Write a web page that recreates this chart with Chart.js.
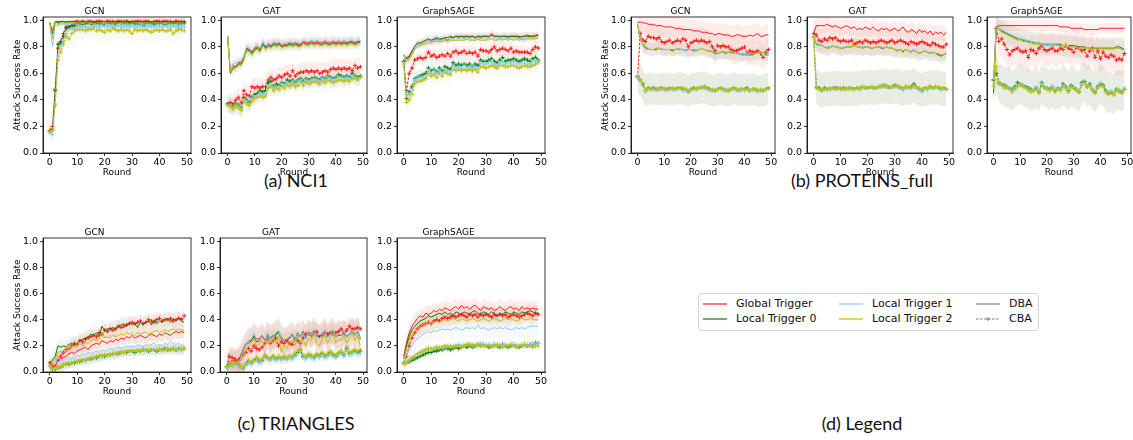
<!DOCTYPE html>
<html>
<head>
<meta charset="utf-8">
<script src="https://cdn.jsdelivr.net/npm/chart.js@4.4.0/dist/chart.umd.min.js"></script>
<style>
  body { margin: 0; background: #fff; width: 1133px; height: 440px; position: relative; overflow: hidden; }
  canvas { position: absolute; }
  .cap { position: absolute; font-family: Lato, "Open Sans", sans-serif; font-size: 18px; color: #111; transform: translateX(-50%); white-space: nowrap; }
  #legend { position: absolute; left: 698px; top: 293px; width: 339px; height: 36px; border: 1px solid #d4d4d4; border-radius: 3px; font-family: "DejaVu Sans", sans-serif; font-size: 11px; color: #111; }
  #legend .it { position: absolute; height: 14px; line-height: 14px; white-space: nowrap; }
  #legend svg { position: absolute; left: 0; top: 2px; }
  #legend span { position: absolute; left: 33px; top: 0; }
</style>
</head>
<body>
<div class="cap" style="left:296px;top:169px">(a) NCI1</div>
<div class="cap" style="left:862px;top:169px">(b) PROTEINS_full</div>
<div class="cap" style="left:296px;top:412px">(c) TRIANGLES</div>
<div class="cap" style="left:862px;top:412px">(d) Legend</div>
<div id="legend"></div>
<script>
const rounds = [0,1,2,3,4,5,6,7,8,9,10,11,12,13,14,15,16,17,18,19,20,21,22,23,24,25,26,27,28,29,30,31,32,33,34,35,36,37,38,39,40,41,42,43,44,45,46,47,48,49];
const xTicks = [0, 10, 20, 30, 40, 50];
const yTicks = [0, 0.2, 0.4, 0.6, 0.8, 1.0];
const triggers = ["Global Trigger", "Local Trigger 0", "Local Trigger 1", "Local Trigger 2"];

// ---- NCI1 / GCN
const nci1GcnGlobalDba = [0.98,0.92,0.99,0.99,0.99,0.99,0.99,0.99,0.99,0.99,
  1.00,0.99,1.00,0.99,0.99,1.00,0.99,0.99,1.00,0.99, 0.99,1.00,0.99,0.99,0.99,1.00,0.99,0.99,1.00,0.99,
  0.99,0.99,1.00,0.99,0.99,1.00,0.99,0.99,0.99,1.00, 0.99,0.99,1.00,0.99,0.99,0.99,1.00,0.99,0.99,0.99];
const nci1GcnL0Dba = [0.98,0.90,0.99,0.98,0.99,0.99,0.98,0.99,0.99,0.99,
  0.99,0.98,0.99,0.99,0.99,0.98,0.99,0.99,0.98,0.99, 0.99,0.99,0.98,0.99,0.99,0.99,0.99,0.98,0.99,0.99,
  0.98,0.99,0.99,0.99,0.98,0.99,0.99,0.98,0.99,0.99, 0.99,0.98,0.99,0.99,0.98,0.99,0.99,0.98,0.99,0.98];
const nci1GcnL1Dba = [0.97,0.80,0.97,0.96,0.97,0.97,0.97,0.97,0.98,0.97,
  0.97,0.97,0.98,0.97,0.97,0.98,0.97,0.97,0.96,0.97, 0.98,0.97,0.97,0.97,0.96,0.97,0.98,0.97,0.97,0.97,
  0.97,0.96,0.97,0.98,0.97,0.97,0.97,0.97,0.96,0.97, 0.97,0.97,0.98,0.97,0.97,0.96,0.97,0.97,0.97,0.97];
const nci1GcnL2Dba = [0.99,0.86,0.99,0.97,0.98,0.98,0.98,0.98,0.98,0.98,
  0.98,0.98,0.98,0.99,0.98,0.98,0.97,0.98,0.98,0.98, 0.99,0.98,0.98,0.98,0.98,0.98,0.98,0.98,0.98,0.97,
  0.98,0.98,0.98,0.98,0.98,0.98,0.98,0.98,0.98,0.98, 0.98,0.98,0.98,0.98,0.98,0.98,0.98,0.98,0.98,0.98];
const nci1GcnGlobalCba = [0.17,0.20,0.48,0.79,0.84,0.90,0.95,0.95,0.96,0.97,
  0.98,0.98,0.98,0.98,0.99,0.98,0.98,0.99,0.99,0.99, 0.98,0.99,0.99,0.99,0.98,0.99,0.99,0.99,0.99,0.98,
  0.99,0.99,0.99,0.99,0.99,0.99,0.99,0.98,0.99,0.99, 0.99,0.99,0.99,0.99,0.99,0.98,0.99,0.99,0.99,0.99];
const nci1GcnL0Cba = [0.16,0.18,0.47,0.82,0.83,0.88,0.94,0.95,0.95,0.96,
  0.97,0.97,0.98,0.97,0.98,0.98,0.97,0.98,0.98,0.97, 0.98,0.98,0.98,0.97,0.98,0.98,0.98,0.98,0.97,0.98,
  0.98,0.98,0.97,0.98,0.96,0.98,0.98,0.98,0.97,0.98, 0.98,0.98,0.97,0.98,0.98,0.98,0.98,0.97,0.98,0.98];
const nci1GcnL1Cba = [0.16,0.14,0.37,0.73,0.80,0.85,0.90,0.93,0.94,0.93,
  0.95,0.95,0.95,0.95,0.94,0.95,0.96,0.95,0.95,0.96, 0.95,0.96,0.95,0.96,0.95,0.96,0.95,0.95,0.96,0.95,
  0.96,0.95,0.95,0.96,0.95,0.95,0.96,0.95,0.95,0.96, 0.95,0.95,0.96,0.95,0.95,0.96,0.95,0.94,0.95,0.95];
const nci1GcnL2Cba = [0.16,0.17,0.36,0.70,0.76,0.82,0.88,0.86,0.90,0.92,
  0.93,0.93,0.93,0.92,0.93,0.93,0.94,0.92,0.93,0.92, 0.91,0.93,0.92,0.94,0.93,0.92,0.93,0.92,0.93,0.92,
  0.90,0.93,0.92,0.93,0.92,0.93,0.92,0.91,0.92,0.93, 0.92,0.93,0.92,0.92,0.93,0.90,0.92,0.93,0.93,0.92];
const nci1GcnDbaSpread = [0.01, 0.015, 0.03, 0.03];
const nci1GcnCbaSpread = [0.03, 0.03, 0.05, 0.08];

// ---- NCI1 / GAT
const nci1GatGlobalDba = [0.88,0.62,0.66,0.65,0.68,0.68,0.72,0.79,0.78,0.76,
  0.79,0.80,0.78,0.83,0.80,0.82,0.81,0.83,0.82,0.83, 0.81,0.82,0.82,0.83,0.82,0.83,0.82,0.82,0.84,0.83,
  0.83,0.84,0.83,0.84,0.83,0.83,0.84,0.83,0.83,0.84, 0.83,0.84,0.83,0.84,0.83,0.84,0.84,0.83,0.84,0.84];
const nci1GatL0Dba = [0.88,0.60,0.64,0.65,0.67,0.67,0.71,0.78,0.77,0.75,
  0.78,0.79,0.77,0.82,0.79,0.81,0.80,0.82,0.81,0.82, 0.80,0.81,0.81,0.82,0.81,0.82,0.81,0.81,0.83,0.82,
  0.82,0.83,0.82,0.83,0.82,0.82,0.83,0.82,0.82,0.83, 0.82,0.83,0.82,0.83,0.82,0.83,0.83,0.82,0.83,0.84];
const nci1GatL1Dba = [0.88,0.62,0.67,0.68,0.69,0.69,0.73,0.80,0.79,0.77,
  0.80,0.81,0.79,0.84,0.81,0.83,0.82,0.84,0.83,0.84, 0.82,0.83,0.83,0.84,0.83,0.84,0.83,0.83,0.85,0.84,
  0.84,0.85,0.84,0.85,0.84,0.84,0.85,0.84,0.84,0.85, 0.84,0.85,0.84,0.85,0.84,0.85,0.85,0.84,0.85,0.85];
const nci1GatL2Dba = [0.88,0.61,0.63,0.64,0.66,0.66,0.70,0.77,0.76,0.74,
  0.77,0.78,0.76,0.81,0.78,0.80,0.79,0.81,0.80,0.81, 0.79,0.80,0.80,0.81,0.80,0.81,0.80,0.80,0.82,0.81,
  0.81,0.82,0.81,0.82,0.81,0.81,0.82,0.81,0.81,0.82, 0.81,0.82,0.81,0.82,0.81,0.82,0.82,0.81,0.82,0.83];
const nci1GatGlobalCba = [0.37,0.38,0.37,0.40,0.42,0.38,0.47,0.44,0.43,0.50,
  0.49,0.50,0.49,0.50,0.50,0.55,0.57,0.55,0.56,0.58, 0.57,0.59,0.60,0.58,0.62,0.58,0.60,0.61,0.61,0.62,
  0.61,0.62,0.61,0.62,0.60,0.61,0.62,0.61,0.63,0.64, 0.63,0.64,0.63,0.64,0.63,0.64,0.62,0.66,0.64,0.65];
const nci1GatL0Cba = [0.37,0.36,0.35,0.37,0.36,0.34,0.42,0.40,0.38,0.42,
  0.44,0.45,0.47,0.46,0.47,0.53,0.54,0.50,0.52,0.51, 0.53,0.52,0.55,0.54,0.55,0.53,0.55,0.56,0.54,0.56,
  0.55,0.56,0.57,0.56,0.55,0.57,0.56,0.58,0.57,0.56, 0.57,0.59,0.58,0.57,0.58,0.57,0.60,0.58,0.57,0.58];
const nci1GatL1Cba = [0.36,0.36,0.34,0.36,0.35,0.33,0.40,0.39,0.37,0.41,
  0.42,0.43,0.45,0.44,0.45,0.50,0.52,0.49,0.50,0.50, 0.52,0.51,0.53,0.52,0.54,0.52,0.54,0.55,0.53,0.55,
  0.54,0.55,0.56,0.55,0.54,0.56,0.55,0.57,0.56,0.55, 0.56,0.57,0.57,0.56,0.57,0.56,0.58,0.57,0.56,0.57];
const nci1GatL2Cba = [0.36,0.35,0.33,0.35,0.34,0.32,0.39,0.37,0.36,0.39,
  0.41,0.42,0.43,0.42,0.43,0.49,0.50,0.47,0.49,0.48, 0.50,0.49,0.51,0.50,0.52,0.50,0.51,0.53,0.51,0.53,
  0.52,0.53,0.54,0.53,0.52,0.54,0.53,0.55,0.54,0.53, 0.54,0.55,0.55,0.54,0.55,0.54,0.56,0.56,0.55,0.57];
const nci1GatDbaSpread = [0.04, 0.04, 0.04, 0.04];
const nci1GatCbaSpread = [0.07, 0.06, 0.06, 0.06];

// ---- NCI1 / GraphSAGE
const nci1SageGlobalDba = [0.68,0.72,0.73,0.77,0.80,0.82,0.82,0.83,0.84,0.85,
  0.84,0.85,0.86,0.85,0.86,0.86,0.85,0.87,0.87,0.88, 0.87,0.88,0.87,0.88,0.87,0.88,0.87,0.88,0.87,0.88,
  0.88,0.87,0.90,0.88,0.88,0.87,0.88,0.88,0.87,0.88, 0.88,0.88,0.87,0.88,0.88,0.89,0.88,0.88,0.89,0.89];
const nci1SageL0Dba = [0.74,0.71,0.72,0.76,0.80,0.83,0.83,0.84,0.85,0.86,
  0.85,0.86,0.87,0.86,0.86,0.87,0.87,0.88,0.87,0.88, 0.88,0.88,0.88,0.88,0.88,0.88,0.87,0.88,0.88,0.88,
  0.88,0.88,0.89,0.88,0.88,0.88,0.88,0.88,0.88,0.88, 0.88,0.88,0.88,0.87,0.88,0.88,0.88,0.88,0.88,0.89];
const nci1SageL1Dba = [0.72,0.69,0.71,0.75,0.79,0.82,0.82,0.83,0.84,0.85,
  0.84,0.85,0.85,0.85,0.85,0.86,0.86,0.86,0.86,0.87, 0.86,0.87,0.86,0.87,0.86,0.87,0.86,0.87,0.86,0.87,
  0.86,0.87,0.88,0.87,0.86,0.87,0.86,0.87,0.86,0.87, 0.87,0.87,0.86,0.87,0.86,0.87,0.87,0.87,0.87,0.88];
const nci1SageL2Dba = [0.74,0.70,0.70,0.74,0.78,0.80,0.81,0.82,0.82,0.83,
  0.83,0.84,0.84,0.84,0.84,0.85,0.84,0.85,0.85,0.85, 0.85,0.85,0.85,0.86,0.85,0.85,0.85,0.86,0.85,0.85,
  0.85,0.86,0.86,0.85,0.85,0.86,0.85,0.86,0.85,0.86, 0.85,0.86,0.85,0.86,0.85,0.86,0.86,0.86,0.86,0.87];
const nci1SageGlobalCba = [0.69,0.47,0.60,0.64,0.70,0.71,0.72,0.71,0.72,0.76,
  0.73,0.74,0.72,0.73,0.74,0.73,0.75,0.73,0.76,0.77, 0.75,0.76,0.77,0.75,0.76,0.75,0.76,0.73,0.78,0.77,
  0.77,0.76,0.78,0.80,0.77,0.78,0.79,0.78,0.77,0.79, 0.76,0.77,0.76,0.76,0.76,0.76,0.75,0.78,0.80,0.79];
const nci1SageL0Cba = [0.69,0.41,0.46,0.50,0.56,0.57,0.58,0.59,0.60,0.64,
  0.62,0.63,0.61,0.64,0.62,0.65,0.64,0.63,0.68,0.66, 0.67,0.66,0.67,0.66,0.67,0.65,0.67,0.66,0.70,0.69,
  0.69,0.70,0.71,0.69,0.68,0.70,0.72,0.69,0.70,0.70, 0.71,0.70,0.69,0.70,0.71,0.70,0.69,0.71,0.72,0.70];
const nci1SageL1Cba = [0.68,0.43,0.44,0.47,0.55,0.56,0.57,0.57,0.58,0.62,
  0.60,0.62,0.60,0.62,0.60,0.63,0.62,0.61,0.66,0.64, 0.65,0.64,0.66,0.64,0.65,0.64,0.65,0.64,0.68,0.67,
  0.67,0.68,0.69,0.67,0.66,0.68,0.69,0.67,0.68,0.68, 0.69,0.68,0.67,0.68,0.68,0.67,0.67,0.69,0.70,0.69];
const nci1SageL2Cba = [0.67,0.38,0.40,0.44,0.52,0.54,0.54,0.55,0.56,0.60,
  0.58,0.59,0.57,0.60,0.58,0.61,0.60,0.59,0.63,0.62, 0.63,0.62,0.63,0.62,0.63,0.62,0.63,0.61,0.65,0.65,
  0.64,0.65,0.66,0.65,0.64,0.66,0.66,0.65,0.65,0.66, 0.66,0.65,0.64,0.65,0.66,0.65,0.65,0.66,0.67,0.68];
const nci1SageDbaSpread = [0.03, 0.03, 0.03, 0.03];
const nci1SageCbaSpread = [0.05, 0.05, 0.05, 0.06];

// ---- PROTEINS_full / GCN
const protGcnGlobalDba = [0.98,0.99,0.98,0.98,0.97,0.97,0.97,0.96,0.96,0.96,
  0.95,0.95,0.95,0.95,0.94,0.94,0.94,0.93,0.93,0.93, 0.93,0.92,0.92,0.92,0.91,0.91,0.91,0.90,0.90,0.89,
  0.90,0.90,0.89,0.89,0.89,0.88,0.88,0.89,0.89,0.88, 0.88,0.88,0.89,0.88,0.89,0.90,0.88,0.88,0.89,0.89];
const protGcnL0Dba = [0.97,0.87,0.82,0.79,0.78,0.78,0.78,0.78,0.79,0.78,
  0.78,0.78,0.78,0.77,0.78,0.78,0.78,0.78,0.77,0.78, 0.78,0.77,0.77,0.78,0.78,0.78,0.77,0.77,0.76,0.75,
  0.75,0.76,0.76,0.75,0.76,0.76,0.75,0.75,0.75,0.74, 0.74,0.74,0.74,0.74,0.75,0.76,0.75,0.76,0.74,0.74];
const protGcnL1Dba = [0.97,0.88,0.82,0.80,0.78,0.78,0.78,0.79,0.79,0.79,
  0.78,0.78,0.78,0.78,0.78,0.78,0.79,0.78,0.77,0.78, 0.78,0.78,0.77,0.78,0.78,0.78,0.77,0.77,0.76,0.74,
  0.75,0.76,0.76,0.76,0.76,0.75,0.75,0.75,0.74,0.74, 0.74,0.74,0.75,0.75,0.75,0.75,0.75,0.76,0.75,0.74];
const protGcnL2Dba = [0.97,0.87,0.83,0.80,0.79,0.78,0.78,0.79,0.79,0.78,
  0.78,0.78,0.78,0.78,0.78,0.79,0.78,0.78,0.78,0.78, 0.78,0.78,0.78,0.78,0.79,0.78,0.77,0.77,0.77,0.75,
  0.76,0.76,0.77,0.76,0.76,0.76,0.76,0.75,0.75,0.75, 0.75,0.75,0.75,0.75,0.75,0.76,0.76,0.76,0.75,0.75];
const protGcnGlobalCba = [0.57,0.90,0.85,0.84,0.88,0.87,0.87,0.86,0.87,0.84,
  0.83,0.84,0.85,0.83,0.84,0.85,0.84,0.86,0.85,0.80, 0.83,0.84,0.85,0.84,0.85,0.84,0.83,0.84,0.80,0.77,
  0.81,0.80,0.81,0.80,0.80,0.78,0.77,0.77,0.78,0.79, 0.80,0.75,0.77,0.76,0.76,0.77,0.75,0.72,0.76,0.78];
const protGcnL0Cba = [0.58,0.55,0.52,0.47,0.49,0.48,0.49,0.48,0.48,0.49,
  0.48,0.48,0.49,0.48,0.48,0.49,0.49,0.48,0.48,0.46, 0.48,0.49,0.48,0.49,0.49,0.50,0.49,0.48,0.47,0.47,
  0.48,0.49,0.48,0.47,0.47,0.48,0.49,0.48,0.47,0.48, 0.48,0.49,0.47,0.48,0.48,0.47,0.47,0.47,0.48,0.49];
const protGcnL1Cba = [0.58,0.54,0.51,0.46,0.48,0.48,0.48,0.47,0.48,0.48,
  0.49,0.47,0.48,0.48,0.48,0.48,0.49,0.47,0.48,0.46, 0.48,0.48,0.48,0.49,0.49,0.49,0.48,0.47,0.47,0.47,
  0.48,0.48,0.48,0.47,0.48,0.48,0.48,0.47,0.47,0.48, 0.47,0.48,0.47,0.48,0.47,0.46,0.47,0.47,0.48,0.48];
const protGcnL2Cba = [0.57,0.55,0.51,0.47,0.49,0.49,0.48,0.48,0.49,0.48,
  0.48,0.48,0.49,0.49,0.48,0.49,0.49,0.49,0.48,0.47, 0.48,0.48,0.49,0.49,0.50,0.50,0.49,0.48,0.48,0.47,
  0.48,0.49,0.48,0.48,0.47,0.48,0.49,0.48,0.48,0.48, 0.48,0.48,0.47,0.48,0.48,0.47,0.48,0.47,0.48,0.49];
const protGcnDbaSpread = [0.08, 0.05, 0.05, 0.05];
const protGcnCbaSpread = [0.1, 0.12, 0.12, 0.12];

// ---- PROTEINS_full / GAT
const protGatGlobalDba = [0.90,0.96,0.96,0.96,0.96,0.97,0.96,0.95,0.96,0.95,
  0.94,0.95,0.96,0.95,0.94,0.95,0.93,0.94,0.93,0.95, 0.94,0.93,0.95,0.93,0.92,0.94,0.93,0.94,0.92,0.93,
  0.94,0.92,0.93,0.95,0.92,0.91,0.93,0.92,0.90,0.93, 0.91,0.92,0.90,0.92,0.89,0.91,0.90,0.91,0.89,0.91];
const protGatL0Dba = [0.88,0.82,0.82,0.81,0.80,0.79,0.80,0.81,0.80,0.80,
  0.79,0.79,0.80,0.80,0.80,0.81,0.80,0.80,0.79,0.80, 0.80,0.79,0.79,0.80,0.80,0.79,0.79,0.80,0.79,0.79,
  0.78,0.77,0.78,0.76,0.78,0.77,0.76,0.78,0.76,0.75, 0.76,0.77,0.76,0.75,0.76,0.75,0.74,0.73,0.74,0.75];
const protGatL1Dba = [0.88,0.83,0.82,0.81,0.80,0.80,0.80,0.81,0.80,0.80,
  0.79,0.80,0.80,0.80,0.81,0.81,0.80,0.80,0.80,0.80, 0.80,0.80,0.79,0.80,0.80,0.80,0.79,0.80,0.79,0.79,
  0.78,0.78,0.78,0.77,0.78,0.77,0.77,0.78,0.76,0.76, 0.76,0.77,0.76,0.76,0.76,0.75,0.75,0.74,0.74,0.75];
const protGatL2Dba = [0.87,0.82,0.81,0.81,0.80,0.79,0.79,0.80,0.80,0.79,
  0.79,0.79,0.80,0.80,0.80,0.81,0.80,0.80,0.79,0.80, 0.80,0.79,0.79,0.80,0.80,0.80,0.79,0.80,0.79,0.79,
  0.78,0.77,0.78,0.77,0.78,0.77,0.76,0.77,0.76,0.75, 0.76,0.77,0.76,0.75,0.76,0.75,0.75,0.74,0.74,0.76];
const protGatGlobalCba = [0.90,0.89,0.85,0.84,0.86,0.85,0.87,0.86,0.87,0.85,
  0.84,0.85,0.84,0.84,0.85,0.82,0.83,0.84,0.83,0.85, 0.84,0.83,0.84,0.83,0.84,0.85,0.84,0.83,0.84,0.85,
  0.83,0.84,0.85,0.84,0.83,0.82,0.84,0.83,0.82,0.83, 0.84,0.83,0.82,0.81,0.83,0.82,0.81,0.80,0.80,0.82];
const protGatL0Cba = [0.87,0.50,0.49,0.47,0.49,0.48,0.48,0.49,0.49,0.49,
  0.48,0.49,0.48,0.49,0.49,0.48,0.49,0.48,0.50,0.49, 0.49,0.50,0.49,0.49,0.50,0.50,0.51,0.50,0.49,0.50,
  0.51,0.50,0.49,0.48,0.50,0.49,0.50,0.52,0.49,0.48, 0.47,0.49,0.48,0.50,0.49,0.50,0.49,0.48,0.49,0.48];
const protGatL1Cba = [0.87,0.50,0.48,0.47,0.48,0.48,0.48,0.49,0.48,0.49,
  0.48,0.48,0.48,0.49,0.48,0.48,0.49,0.48,0.49,0.49, 0.49,0.50,0.49,0.49,0.50,0.50,0.50,0.50,0.49,0.50,
  0.50,0.50,0.49,0.48,0.49,0.49,0.49,0.50,0.49,0.48, 0.46,0.48,0.48,0.49,0.49,0.49,0.49,0.48,0.48,0.48];
const protGatL2Cba = [0.88,0.49,0.48,0.47,0.48,0.48,0.49,0.49,0.48,0.48,
  0.49,0.48,0.49,0.48,0.49,0.48,0.49,0.49,0.50,0.50, 0.49,0.50,0.50,0.49,0.50,0.51,0.50,0.51,0.50,0.50,
  0.50,0.51,0.50,0.49,0.50,0.50,0.49,0.51,0.50,0.49, 0.48,0.49,0.49,0.50,0.49,0.50,0.50,0.49,0.49,0.48];
const protGatDbaSpread = [0.06, 0.06, 0.06, 0.06];
const protGatCbaSpread = [0.1, 0.13, 0.13, 0.13];

// ---- PROTEINS_full / GraphSAGE
const protSageGlobalDba = [0.50,0.95,0.96,0.96,0.96,0.96,0.96,0.96,0.96,0.96,
  0.96,0.96,0.96,0.96,0.96,0.96,0.96,0.96,0.96,0.96, 0.96,0.96,0.96,0.96,0.96,0.95,0.95,0.95,0.95,0.94,
  0.94,0.94,0.94,0.94,0.93,0.93,0.93,0.93,0.93,0.93, 0.94,0.94,0.94,0.94,0.94,0.94,0.94,0.94,0.94,0.94];
const protSageL0Dba = [0.45,0.95,0.94,0.92,0.91,0.90,0.89,0.88,0.87,0.86,
  0.86,0.85,0.85,0.84,0.84,0.83,0.83,0.83,0.82,0.82, 0.82,0.82,0.82,0.82,0.82,0.82,0.81,0.81,0.81,0.81,
  0.81,0.80,0.80,0.80,0.80,0.79,0.79,0.79,0.79,0.79, 0.79,0.79,0.79,0.79,0.79,0.79,0.80,0.80,0.79,0.78];
const protSageL1Dba = [0.55,0.95,0.94,0.93,0.92,0.91,0.90,0.89,0.88,0.87,
  0.86,0.86,0.85,0.85,0.84,0.84,0.83,0.83,0.82,0.82, 0.82,0.82,0.82,0.82,0.81,0.81,0.81,0.81,0.81,0.80,
  0.80,0.80,0.79,0.79,0.79,0.79,0.78,0.78,0.78,0.78, 0.78,0.78,0.78,0.78,0.78,0.78,0.79,0.79,0.78,0.78];
const protSageL2Dba = [0.50,0.94,0.93,0.91,0.90,0.89,0.88,0.87,0.86,0.85,
  0.85,0.84,0.84,0.83,0.83,0.82,0.82,0.82,0.81,0.81, 0.81,0.81,0.81,0.81,0.81,0.81,0.80,0.80,0.80,0.80,
  0.80,0.80,0.79,0.79,0.79,0.79,0.79,0.79,0.79,0.78, 0.79,0.79,0.79,0.79,0.79,0.79,0.79,0.79,0.78,0.78];
const protSageGlobalCba = [0.55,0.94,0.84,0.86,0.82,0.78,0.74,0.77,0.78,0.79,
  0.77,0.76,0.77,0.72,0.78,0.77,0.75,0.79,0.81,0.78, 0.77,0.78,0.79,0.77,0.77,0.79,0.78,0.81,0.79,0.78,
  0.76,0.80,0.79,0.77,0.78,0.73,0.77,0.79,0.72,0.77, 0.71,0.76,0.73,0.72,0.74,0.73,0.70,0.71,0.70,0.75];
const protSageL0Cba = [0.55,0.60,0.53,0.52,0.51,0.50,0.49,0.48,0.50,0.53,
  0.52,0.51,0.50,0.49,0.48,0.47,0.49,0.46,0.53,0.50, 0.49,0.48,0.50,0.47,0.49,0.48,0.52,0.50,0.47,0.51,
  0.49,0.48,0.46,0.53,0.54,0.50,0.52,0.48,0.46,0.50, 0.52,0.51,0.47,0.45,0.46,0.44,0.48,0.47,0.46,0.48];
const protSageL1Cba = [0.52,0.63,0.54,0.52,0.50,0.50,0.49,0.47,0.49,0.51,
  0.52,0.51,0.49,0.48,0.47,0.48,0.50,0.47,0.52,0.50, 0.49,0.47,0.50,0.48,0.49,0.48,0.51,0.49,0.48,0.50,
  0.50,0.48,0.47,0.52,0.53,0.51,0.50,0.48,0.47,0.49, 0.53,0.50,0.46,0.46,0.47,0.45,0.47,0.48,0.47,0.49];
const protSageL2Cba = [0.50,0.65,0.52,0.51,0.49,0.49,0.48,0.46,0.48,0.50,
  0.51,0.50,0.49,0.47,0.46,0.47,0.48,0.45,0.51,0.49, 0.48,0.47,0.49,0.46,0.48,0.47,0.50,0.49,0.46,0.50,
  0.49,0.47,0.46,0.51,0.53,0.50,0.51,0.47,0.45,0.49, 0.51,0.50,0.46,0.44,0.45,0.44,0.47,0.46,0.45,0.48];
const protSageDbaSpread = [0.04, 0.08, 0.08, 0.08];
const protSageCbaSpread = [0.12, 0.15, 0.15, 0.15];

// ---- TRIANGLES / GCN
const triGcnGlobalDba = [0.05,0.03,0.06,0.09,0.10,0.11,0.12,0.14,0.15,0.14,
  0.16,0.17,0.18,0.19,0.17,0.20,0.21,0.22,0.21,0.24, 0.23,0.22,0.24,0.23,0.25,0.24,0.26,0.25,0.27,0.26,
  0.28,0.26,0.27,0.28,0.27,0.26,0.28,0.29,0.28,0.27, 0.29,0.28,0.30,0.29,0.28,0.30,0.31,0.30,0.31,0.30];
const triGcnL0Dba = [0.07,0.09,0.12,0.20,0.19,0.20,0.19,0.21,0.22,0.20,
  0.22,0.24,0.25,0.26,0.27,0.29,0.28,0.30,0.27,0.35, 0.32,0.33,0.33,0.34,0.33,0.35,0.36,0.37,0.35,0.38,
  0.36,0.37,0.34,0.38,0.36,0.38,0.39,0.36,0.40,0.37, 0.39,0.38,0.40,0.41,0.38,0.41,0.39,0.42,0.39,0.38];
const triGcnL1Dba = [0.04,0.05,0.06,0.13,0.08,0.09,0.10,0.11,0.10,0.12,
  0.13,0.12,0.14,0.13,0.15,0.14,0.15,0.16,0.15,0.17, 0.16,0.17,0.18,0.17,0.18,0.19,0.18,0.19,0.20,0.19,
  0.20,0.19,0.21,0.20,0.19,0.21,0.20,0.21,0.22,0.20, 0.21,0.20,0.22,0.21,0.23,0.22,0.21,0.22,0.20,0.20];
const triGcnL2Dba = [0.05,0.07,0.10,0.15,0.16,0.15,0.17,0.18,0.20,0.19,
  0.21,0.22,0.20,0.23,0.22,0.24,0.25,0.24,0.26,0.30, 0.26,0.27,0.26,0.28,0.27,0.28,0.29,0.28,0.30,0.29,
  0.30,0.28,0.30,0.29,0.30,0.31,0.29,0.30,0.31,0.32, 0.30,0.31,0.32,0.31,0.32,0.33,0.32,0.33,0.32,0.32];
const triGcnGlobalCba = [0.07,0.05,0.04,0.09,0.12,0.15,0.17,0.18,0.20,0.22,
  0.21,0.24,0.23,0.25,0.26,0.27,0.28,0.27,0.30,0.29, 0.32,0.31,0.33,0.32,0.33,0.35,0.34,0.35,0.36,0.37,
  0.38,0.37,0.38,0.39,0.37,0.38,0.40,0.39,0.38,0.40, 0.41,0.39,0.40,0.40,0.41,0.39,0.40,0.41,0.40,0.43];
const triGcnL0Cba = [0.05,0.02,0.02,0.03,0.04,0.05,0.06,0.06,0.07,0.07,
  0.08,0.08,0.09,0.09,0.10,0.10,0.11,0.11,0.12,0.12, 0.12,0.13,0.13,0.14,0.14,0.14,0.15,0.15,0.15,0.16,
  0.16,0.15,0.16,0.16,0.17,0.17,0.16,0.17,0.17,0.16, 0.17,0.17,0.18,0.17,0.17,0.18,0.17,0.18,0.17,0.18];
const triGcnL1Cba = [0.04,0.02,0.03,0.03,0.05,0.05,0.06,0.07,0.07,0.08,
  0.08,0.09,0.09,0.10,0.10,0.11,0.11,0.12,0.12,0.12, 0.13,0.13,0.13,0.14,0.14,0.15,0.15,0.15,0.16,0.16,
  0.16,0.16,0.16,0.17,0.17,0.16,0.17,0.17,0.17,0.17, 0.17,0.17,0.17,0.18,0.17,0.17,0.18,0.17,0.17,0.18];
const triGcnL2Cba = [0.05,0.02,0.02,0.04,0.04,0.06,0.06,0.07,0.07,0.08,
  0.08,0.09,0.09,0.09,0.10,0.11,0.11,0.12,0.12,0.13, 0.13,0.13,0.14,0.14,0.14,0.15,0.15,0.15,0.16,0.16,
  0.16,0.16,0.17,0.16,0.17,0.17,0.17,0.17,0.17,0.17, 0.18,0.17,0.17,0.18,0.17,0.18,0.17,0.18,0.18,0.18];
const triGcnDbaSpread = [0.05, 0.06, 0.07, 0.06];
const triGcnCbaSpread = [0.05, 0.04, 0.04, 0.04];

// ---- TRIANGLES / GAT
const triGatGlobalDba = [0.04,0.07,0.09,0.08,0.09,0.12,0.17,0.21,0.24,0.24,
  0.28,0.25,0.26,0.28,0.24,0.29,0.26,0.28,0.29,0.31, 0.25,0.24,0.25,0.26,0.28,0.25,0.28,0.27,0.29,0.26,
  0.30,0.28,0.31,0.27,0.27,0.28,0.31,0.27,0.29,0.31, 0.27,0.28,0.28,0.30,0.27,0.29,0.31,0.28,0.31,0.26];
const triGatL0Dba = [0.03,0.06,0.07,0.06,0.08,0.11,0.15,0.21,0.22,0.24,
  0.27,0.23,0.24,0.27,0.24,0.28,0.25,0.27,0.28,0.31, 0.27,0.23,0.24,0.26,0.29,0.24,0.30,0.27,0.31,0.26,
  0.30,0.29,0.32,0.28,0.27,0.29,0.32,0.26,0.30,0.32, 0.27,0.29,0.28,0.30,0.27,0.29,0.32,0.29,0.31,0.25];
const triGatL1Dba = [0.03,0.06,0.08,0.05,0.07,0.10,0.16,0.20,0.24,0.25,
  0.30,0.24,0.25,0.27,0.23,0.30,0.25,0.27,0.30,0.32, 0.26,0.23,0.25,0.27,0.28,0.24,0.29,0.27,0.30,0.25,
  0.31,0.28,0.33,0.27,0.26,0.28,0.32,0.26,0.29,0.33, 0.27,0.29,0.28,0.31,0.27,0.29,0.32,0.28,0.32,0.25];
const triGatL2Dba = [0.04,0.05,0.06,0.07,0.08,0.09,0.12,0.16,0.20,0.22,
  0.25,0.20,0.22,0.24,0.20,0.25,0.22,0.26,0.22,0.28, 0.15,0.20,0.18,0.22,0.24,0.20,0.27,0.22,0.25,0.20,
  0.26,0.24,0.30,0.22,0.20,0.25,0.28,0.22,0.26,0.30, 0.22,0.25,0.24,0.28,0.22,0.26,0.30,0.24,0.28,0.20];
const triGatGlobalCba = [0.04,0.12,0.11,0.10,0.08,0.10,0.13,0.15,0.18,0.16,
  0.20,0.18,0.17,0.19,0.22,0.25,0.22,0.24,0.26,0.20, 0.23,0.22,0.24,0.22,0.21,0.25,0.24,0.22,0.26,0.29,
  0.30,0.28,0.30,0.31,0.27,0.28,0.30,0.29,0.30,0.29, 0.30,0.31,0.33,0.30,0.32,0.35,0.33,0.33,0.34,0.33];
const triGatL0Cba = [0.04,0.06,0.05,0.07,0.06,0.04,0.03,0.06,0.08,0.07,
  0.09,0.10,0.08,0.09,0.12,0.11,0.10,0.12,0.10,0.11, 0.10,0.11,0.10,0.12,0.11,0.13,0.15,0.17,0.12,0.11,
  0.13,0.12,0.11,0.13,0.12,0.14,0.12,0.13,0.15,0.13, 0.12,0.14,0.15,0.13,0.18,0.14,0.15,0.16,0.15,0.16];
const triGatL1Cba = [0.03,0.05,0.05,0.06,0.05,0.04,0.03,0.05,0.07,0.06,
  0.08,0.09,0.07,0.08,0.11,0.10,0.09,0.11,0.09,0.10, 0.10,0.10,0.10,0.11,0.10,0.12,0.14,0.16,0.11,0.10,
  0.12,0.11,0.10,0.12,0.11,0.13,0.11,0.12,0.14,0.12, 0.11,0.13,0.14,0.12,0.17,0.13,0.14,0.15,0.14,0.14];
const triGatL2Cba = [0.04,0.07,0.06,0.07,0.07,0.05,0.02,0.06,0.09,0.08,
  0.09,0.11,0.09,0.10,0.13,0.11,0.10,0.12,0.11,0.12, 0.11,0.12,0.11,0.12,0.12,0.14,0.16,0.17,0.13,0.12,
  0.14,0.13,0.12,0.14,0.13,0.15,0.13,0.14,0.16,0.14, 0.13,0.15,0.16,0.14,0.19,0.15,0.16,0.17,0.16,0.17];
const triGatDbaSpread = [0.1, 0.1, 0.1, 0.1];
const triGatCbaSpread = [0.08, 0.04, 0.04, 0.04];

// ---- TRIANGLES / GraphSAGE
const triSageGlobalDba = [0.12,0.22,0.30,0.35,0.38,0.41,0.43,0.42,0.45,0.44,
  0.45,0.47,0.46,0.48,0.47,0.49,0.48,0.47,0.49,0.50, 0.48,0.51,0.49,0.50,0.48,0.50,0.51,0.49,0.47,0.50,
  0.49,0.48,0.49,0.47,0.48,0.50,0.48,0.47,0.49,0.50, 0.48,0.49,0.47,0.50,0.48,0.49,0.48,0.49,0.48,0.48];
const triSageL0Dba = [0.10,0.20,0.27,0.32,0.35,0.37,0.39,0.40,0.41,0.43,
  0.42,0.43,0.44,0.45,0.44,0.46,0.44,0.45,0.43,0.46, 0.45,0.44,0.46,0.45,0.44,0.46,0.47,0.45,0.44,0.46,
  0.45,0.44,0.46,0.45,0.43,0.45,0.44,0.46,0.45,0.44, 0.46,0.45,0.44,0.46,0.45,0.46,0.47,0.46,0.45,0.45];
const triSageL1Dba = [0.08,0.13,0.17,0.20,0.23,0.26,0.27,0.29,0.30,0.31,
  0.30,0.32,0.31,0.32,0.33,0.32,0.33,0.32,0.33,0.34, 0.33,0.32,0.33,0.34,0.33,0.34,0.33,0.36,0.33,0.34,
  0.33,0.32,0.33,0.34,0.33,0.34,0.33,0.34,0.33,0.32, 0.33,0.34,0.33,0.34,0.33,0.34,0.35,0.35,0.35,0.35];
const triSageL2Dba = [0.10,0.18,0.24,0.28,0.31,0.33,0.35,0.36,0.37,0.38,
  0.37,0.38,0.39,0.38,0.39,0.40,0.39,0.40,0.41,0.40, 0.39,0.41,0.40,0.39,0.40,0.41,0.40,0.39,0.40,0.41,
  0.40,0.39,0.40,0.41,0.40,0.39,0.40,0.41,0.40,0.41, 0.40,0.39,0.40,0.41,0.40,0.40,0.41,0.40,0.40,0.40];
const triSageGlobalCba = [0.07,0.12,0.20,0.26,0.30,0.33,0.35,0.36,0.37,0.38,
  0.37,0.39,0.40,0.39,0.41,0.42,0.41,0.42,0.43,0.42, 0.43,0.44,0.43,0.42,0.44,0.43,0.44,0.42,0.44,0.43,
  0.44,0.43,0.42,0.44,0.43,0.44,0.43,0.44,0.42,0.43, 0.44,0.43,0.42,0.43,0.44,0.45,0.44,0.43,0.45,0.44];
const triSageL0Cba = [0.07,0.07,0.08,0.09,0.10,0.11,0.12,0.13,0.14,0.15,
  0.15,0.16,0.16,0.17,0.17,0.18,0.18,0.17,0.18,0.19, 0.18,0.19,0.20,0.19,0.20,0.19,0.20,0.21,0.20,0.21,
  0.20,0.19,0.20,0.21,0.20,0.19,0.21,0.20,0.19,0.20, 0.21,0.20,0.19,0.20,0.21,0.20,0.21,0.21,0.22,0.22];
const triSageL1Cba = [0.07,0.07,0.09,0.11,0.12,0.13,0.15,0.16,0.17,0.18,
  0.17,0.18,0.19,0.19,0.18,0.19,0.20,0.19,0.20,0.20, 0.21,0.20,0.20,0.21,0.22,0.20,0.21,0.20,0.22,0.21,
  0.20,0.21,0.20,0.21,0.20,0.21,0.20,0.21,0.20,0.21, 0.21,0.20,0.20,0.21,0.20,0.21,0.21,0.22,0.21,0.22];
const triSageL2Cba = [0.06,0.07,0.09,0.11,0.12,0.14,0.15,0.16,0.17,0.18,
  0.18,0.18,0.19,0.18,0.19,0.20,0.19,0.20,0.19,0.20, 0.20,0.19,0.20,0.21,0.20,0.21,0.20,0.21,0.20,0.20,
  0.20,0.20,0.19,0.20,0.21,0.20,0.19,0.20,0.20,0.21, 0.20,0.19,0.20,0.20,0.21,0.20,0.20,0.19,0.20,0.20];
const triSageDbaSpread = [0.06, 0.06, 0.08, 0.06];
const triSageCbaSpread = [0.06, 0.03, 0.03, 0.03];

// styles
const lineColors = ["#ff1a1a", "#008000", "#87cefa", "#bfbf00"];
const bandColors = ["rgba(250,128,114,0.14)", "rgba(90,110,70,0.06)", "rgba(140,170,200,0.07)", "rgba(185,175,90,0.08)"];
const FONT = "'DejaVu Sans', sans-serif";
const Y_W = 45, T_H = 16, X_H = 27;

const panels = [
  { title: "GCN", left: 43, top: 17, w: 148, h: 136, yTitle: true,
    dba: [nci1GcnGlobalDba, nci1GcnL0Dba, nci1GcnL1Dba, nci1GcnL2Dba],
    cba: [nci1GcnGlobalCba, nci1GcnL0Cba, nci1GcnL1Cba, nci1GcnL2Cba],
    dbaSpread: nci1GcnDbaSpread, cbaSpread: nci1GcnCbaSpread },
  { title: "GAT", left: 221, top: 17, w: 146, h: 136,
    dba: [nci1GatGlobalDba, nci1GatL0Dba, nci1GatL1Dba, nci1GatL2Dba],
    cba: [nci1GatGlobalCba, nci1GatL0Cba, nci1GatL1Cba, nci1GatL2Cba],
    dbaSpread: nci1GatDbaSpread, cbaSpread: nci1GatCbaSpread },
  { title: "GraphSAGE", left: 397, top: 17, w: 148, h: 136,
    dba: [nci1SageGlobalDba, nci1SageL0Dba, nci1SageL1Dba, nci1SageL2Dba],
    cba: [nci1SageGlobalCba, nci1SageL0Cba, nci1SageL1Cba, nci1SageL2Cba],
    dbaSpread: nci1SageDbaSpread, cbaSpread: nci1SageCbaSpread },
  { title: "GCN", left: 631, top: 17, w: 144, h: 136, yTitle: true,
    dba: [protGcnGlobalDba, protGcnL0Dba, protGcnL1Dba, protGcnL2Dba],
    cba: [protGcnGlobalCba, protGcnL0Cba, protGcnL1Cba, protGcnL2Cba],
    dbaSpread: protGcnDbaSpread, cbaSpread: protGcnCbaSpread },
  { title: "GAT", left: 807, top: 17, w: 146, h: 136,
    dba: [protGatGlobalDba, protGatL0Dba, protGatL1Dba, protGatL2Dba],
    cba: [protGatGlobalCba, protGatL0Cba, protGatL1Cba, protGatL2Cba],
    dbaSpread: protGatDbaSpread, cbaSpread: protGatCbaSpread },
  { title: "GraphSAGE", left: 987, top: 17, w: 144, h: 136,
    dba: [protSageGlobalDba, protSageL0Dba, protSageL1Dba, protSageL2Dba],
    cba: [protSageGlobalCba, protSageL0Cba, protSageL1Cba, protSageL2Cba],
    dbaSpread: protSageDbaSpread, cbaSpread: protSageCbaSpread },
  { title: "GCN", left: 43, top: 238, w: 148, h: 134, yTitle: true,
    dba: [triGcnGlobalDba, triGcnL0Dba, triGcnL1Dba, triGcnL2Dba],
    cba: [triGcnGlobalCba, triGcnL0Cba, triGcnL1Cba, triGcnL2Cba],
    dbaSpread: triGcnDbaSpread, cbaSpread: triGcnCbaSpread },
  { title: "GAT", left: 220, top: 238, w: 147, h: 134,
    dba: [triGatGlobalDba, triGatL0Dba, triGatL1Dba, triGatL2Dba],
    cba: [triGatGlobalCba, triGatL0Cba, triGatL1Cba, triGatL2Cba],
    dbaSpread: triGatDbaSpread, cbaSpread: triGatCbaSpread },
  { title: "GraphSAGE", left: 397, top: 238, w: 148, h: 134,
    dba: [triSageGlobalDba, triSageL0Dba, triSageL1Dba, triSageL2Dba],
    cba: [triSageGlobalCba, triSageL0Cba, triSageL1Cba, triSageL2Cba],
    dbaSpread: triSageDbaSpread, cbaSpread: triSageCbaSpread },
];

// black box round the plot area, like matplotlib spines
const frame = {
  id: "frame",
  afterDatasetsDraw(chart) {
    const a = chart.chartArea, c = chart.ctx;
    c.save();
    c.strokeStyle = "#000";
    c.lineWidth = 0.8;
    c.strokeRect(a.left, a.top, a.right - a.left, a.bottom - a.top);
    c.restore();
  }
};

function pts(vals, d) {
  return vals.map((v, i) => ({ x: rounds[i], y: v + d }));
}

function bandSets(vals, s, color) {
  return [
    { data: pts(vals, s), fill: "+1", backgroundColor: color, borderWidth: 0, pointRadius: 0, order: 20 },
    { data: pts(vals, -s), fill: false, borderWidth: 0, pointRadius: 0, order: 20 }
  ];
}

function makePanel(p) {
  const cv = document.createElement("canvas");
  const W = p.w + Y_W + 6, H = p.h + T_H + X_H;
  cv.width = W; cv.height = H;
  cv.style.width = W + "px"; cv.style.height = H + "px";
  cv.style.left = (p.left - Y_W) + "px";
  cv.style.top = (p.top - T_H) + "px";
  document.body.appendChild(cv);

  const datasets = [];
  for (let t = 0; t < 4; t++) {
    datasets.push(...bandSets(p.dba[t], p.dbaSpread[t], bandColors[t]));
    datasets.push(...bandSets(p.cba[t], p.cbaSpread[t], bandColors[t]));
  }
  for (let t = 0; t < 4; t++) {
    datasets.push({
      label: triggers[t] + " DBA", data: pts(p.dba[t], 0),
      borderColor: lineColors[t], borderWidth: 1, pointRadius: 0, fill: false, order: 8 - 2 * t
    });
    datasets.push({
      label: triggers[t] + " CBA", data: pts(p.cba[t], 0),
      borderColor: lineColors[t], borderWidth: 1, borderDash: [2.5, 1.5],
      pointStyle: "cross", pointRadius: 2, pointBorderWidth: 1, pointBorderColor: lineColors[t],
      fill: false, order: 7 - 2 * t
    });
  }

  new Chart(cv, {
    type: "line",
    data: { datasets },
    plugins: [frame],
    options: {
      responsive: false,
      animation: false,
      events: [],
      layout: { padding: { left: 0, right: 6, top: 0, bottom: 0 } },
      elements: { line: { tension: 0 } },
      plugins: {
        legend: { display: false },
        tooltip: { enabled: false },
        title: { display: true, text: p.title, color: "#000", font: { family: FONT, size: 9, weight: "normal" }, padding: { top: 5.2, bottom: 0 } }
      },
      scales: {
        x: {
          type: "linear", min: -2.45, max: 51.45,
          afterBuildTicks: s => { s.ticks = xTicks.map(v => ({ value: v })); },
          afterFit: s => { s.height = X_H; s.paddingLeft = 0; s.paddingRight = 0; },
          ticks: { color: "#000", font: { family: FONT, size: 9.5 }, padding: 1, maxRotation: 0, callback: v => String(v) },
          grid: { display: true, drawOnChartArea: false, drawTicks: true, tickLength: 3, color: "#000", lineWidth: 0.8 },
          border: { display: true, color: "#000", width: 0.8 },
          title: { display: true, text: "Round", color: "#000", font: { family: FONT, size: 9 }, padding: { top: 0, bottom: 1.5 } }
        },
        y: {
          type: "linear", min: 0, max: 1.025,
          afterBuildTicks: s => { s.ticks = yTicks.map(v => ({ value: v })); },
          afterFit: s => { s.width = Y_W; s.paddingTop = 0; s.paddingBottom = 0; },
          ticks: { color: "#000", font: { family: FONT, size: 9.5 }, padding: 2, callback: v => v.toFixed(1) },
          grid: { display: true, drawOnChartArea: false, drawTicks: true, tickLength: 3, color: "#000", lineWidth: 0.8 },
          border: { display: true, color: "#000", width: 0.8 },
          title: { display: !!p.yTitle, text: "Attack Success Rate", color: "#000", font: { family: FONT, size: 9 }, padding: { top: 14.5, bottom: 0 } }
        }
      }
    }
  });
}

panels.forEach(makePanel);

// legend (d)
const legendItems = [
  { text: "Global Trigger", color: lineColors[0], x: 4, y: 3 },
  { text: "Local Trigger 0", color: lineColors[1], x: 4, y: 18 },
  { text: "Local Trigger 1", color: lineColors[2], x: 140, y: 3 },
  { text: "Local Trigger 2", color: lineColors[3], x: 140, y: 18 },
  { text: "DBA", color: "#808080", x: 277, y: 3 },
  { text: "CBA", color: "#808080", x: 277, y: 18, cba: true }
];
const legend = document.getElementById("legend");
legendItems.forEach(it => {
  const d = document.createElement("div");
  d.className = "it";
  d.style.left = it.x + "px";
  d.style.top = it.y + "px";
  let mark = `<line x1="0" y1="5" x2="24" y2="5" stroke="${it.color}" stroke-width="1.2"${it.cba ? ' stroke-dasharray="2.5,1.5"' : ""}/>`;
  if (it.cba) mark += `<path d="M12 3 V7 M10 5 H14" stroke="${it.color}" stroke-width="1"/>`;
  d.innerHTML = `<svg width="24" height="10">${mark}</svg><span>${it.text}</span>`;
  legend.appendChild(d);
});
</script>
</body>
</html>
